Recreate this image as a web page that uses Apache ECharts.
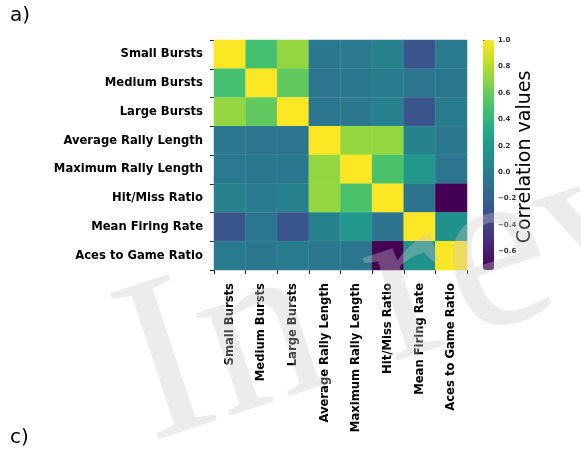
<!DOCTYPE html>
<html>
<head>
<meta charset="utf-8">
<script src="https://cdn.jsdelivr.net/npm/echarts@6/dist/echarts.min.js"></script>
<style>
  html, body { margin: 0; padding: 0; background: #fff; }
  #main { width: 581px; height: 450px; }
</style>
</head>
<body>
<div id="main"></div>
<script>
var features = ['Small Bursts', 'Medium Bursts', 'Large Bursts', 'Average Rally Length',
                'Maximum Rally Length', 'Hit/Miss Ratio', 'Mean Firing Rate', 'Aces to Game Ratio'];

// correlation matrix, rows top to bottom
var rowSmall  = [1.00, 0.48, 0.72, -0.05, -0.04, 0.02, -0.28, -0.03];
var rowMedium = [0.48, 1.00, 0.57, -0.06, -0.05, -0.02, -0.06, -0.05];
var rowLarge  = [0.72, 0.57, 1.00, -0.06, -0.05, 0.01, -0.28, -0.02];
var rowAvg    = [-0.05, -0.06, -0.06, 1.00, 0.72, 0.72, 0.03, -0.05];
var rowMax    = [-0.04, -0.05, -0.05, 0.72, 1.00, 0.50, 0.17, -0.06];
var rowHit    = [0.02, -0.02, 0.01, 0.72, 0.50, 1.00, -0.07, -0.74];
var rowMean   = [-0.28, -0.06, -0.28, 0.03, 0.17, -0.07, 1.00, 0.13];
var rowAces   = [-0.03, -0.05, -0.02, -0.05, -0.06, -0.74, 0.13, 1.00];
var matrix = [rowSmall, rowMedium, rowLarge, rowAvg, rowMax, rowHit, rowMean, rowAces];

var colorbarTicks = [-0.6, -0.4, -0.2, 0.0, 0.2, 0.4, 0.6, 0.8, 1.0];

var viridis = ['#440154', '#482475', '#414487', '#355f8d', '#2a788e', '#21918c',
               '#22a884', '#44bf70', '#7ad151', '#bddf26', '#fde725'];

var data = [];
matrix.forEach(function (row, i) {
    row.forEach(function (v, j) {
        data.push([j, i, v]);
    });
});

var vMin = -0.74, vMax = 1.0;

var option = {
    backgroundColor: '#fff',
    animation: false,
    textStyle: { fontFamily: 'DejaVu Sans' },
    grid: [
        { left: 214, top: 40, width: 253, height: 230 },
        { left: 483, top: 40, width: 11, height: 230 }
    ],
    xAxis: [
        {
            type: 'category', gridIndex: 0, data: features,
            axisLine: { show: false },
            axisTick: { show: true, length: 4, lineStyle: { color: '#222' } },
            axisLabel: { rotate: 90, interval: 0, margin: 13, color: '#000',
                         fontWeight: 'bold', fontSize: 11.6 },
            splitLine: { show: false }
        },
        { type: 'value', gridIndex: 1, show: false, min: 0, max: 1 }
    ],
    yAxis: [
        {
            type: 'category', gridIndex: 0, data: features, inverse: true,
            axisLine: { show: false },
            axisTick: { show: true, length: 4, lineStyle: { color: '#222' } },
            axisLabel: { interval: 0, margin: 11, color: '#000',
                         fontWeight: 'bold', fontSize: 11.6 },
            splitLine: { show: false }
        },
        {
            type: 'value', gridIndex: 1, position: 'right', min: vMin, max: vMax,
            axisLine: { show: false },
            axisTick: { show: true, length: 3, customValues: colorbarTicks,
                        lineStyle: { color: '#444' } },
            axisLabel: { customValues: colorbarTicks, margin: 4, fontSize: 7,
                         fontWeight: 'bold', color: '#333',
                         formatter: function (v) {
                             return v.toFixed(1).replace('-', '\u2212');
                         } },
            splitLine: { show: false }
        }
    ],
    visualMap: {
        type: 'continuous', min: vMin, max: vMax, seriesIndex: 0,
        left: 483, top: 40, itemWidth: 11, itemHeight: 230, padding: 0,
        text: null, showLabel: false, calculable: false, hoverLink: false,
        inRange: { color: viridis }
    },
    graphic: [
        { type: 'text', left: 10, top: 6,
          style: { text: 'a)', font: '20px "DejaVu Sans"', fill: '#000' } },
        { type: 'text', left: 10, top: 428,
          style: { text: 'c)', font: '20px "DejaVu Sans"', fill: '#000' } },
        { type: 'text', x: 525, y: 157, rotation: Math.PI / 2,
          style: { text: 'Correlation values', font: '19px "DejaVu Sans"', fill: '#000',
                   align: 'center', verticalAlign: 'middle' } },
        // "In review" watermark
        { type: 'text', x: 168, y: 495, rotation: 0.32, z: 100,
          style: { text: 'In review', font: '235px "Liberation Serif"',
                   fill: 'rgba(200,200,200,0.35)', align: 'left', verticalAlign: 'bottom' } }
    ],
    series: [{
        type: 'heatmap', xAxisIndex: 0, yAxisIndex: 0, data: data,
        itemStyle: { borderColor: 'rgba(255,255,255,0.12)', borderWidth: 0.6 },
        emphasis: { disabled: true }
    }]
};

var myChart = echarts.init(document.getElementById('main'));
myChart.setOption(option);
</script>
</body>
</html>
